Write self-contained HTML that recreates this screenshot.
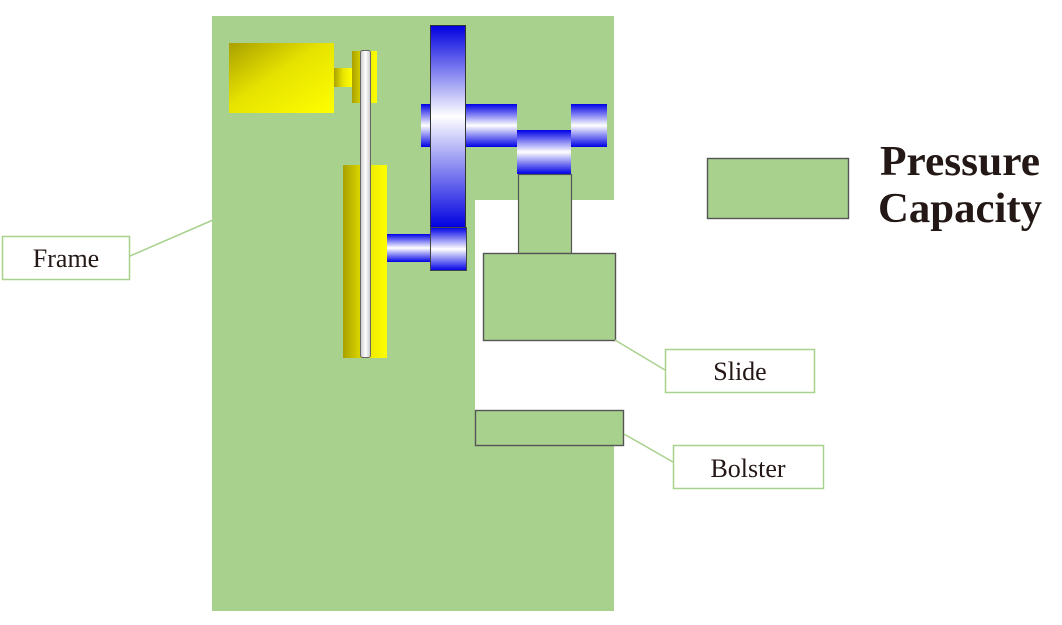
<!DOCTYPE html>
<html><head><meta charset="utf-8"><style>
html,body{margin:0;padding:0;background:#fff;}
svg{display:block;}
</style></head><body>
<svg width="1062" height="625" viewBox="0 0 1062 625" xmlns="http://www.w3.org/2000/svg">
<defs>
<linearGradient id="yel" x1="0" y1="0" x2="1" y2="1"><stop offset="0" stop-color="#a9a000"/><stop offset="0.45" stop-color="#e6e200"/><stop offset="1" stop-color="#ffff00"/></linearGradient>
<linearGradient id="yelh" x1="0" y1="0" x2="1" y2="0"><stop offset="0" stop-color="#a9a000"/><stop offset="0.5" stop-color="#e8e400"/><stop offset="1" stop-color="#ffff00"/></linearGradient>
<linearGradient id="bv" x1="0" y1="0" x2="0" y2="1"><stop offset="0" stop-color="#0000e6"/><stop offset="0.5" stop-color="#ffffff"/><stop offset="1" stop-color="#0000e6"/></linearGradient>
<linearGradient id="fly" x1="0" y1="0" x2="0" y2="1"><stop offset="0" stop-color="#0000e0"/><stop offset="0.45" stop-color="#ffffff"/><stop offset="1" stop-color="#0000e0"/></linearGradient>
<linearGradient id="belt" x1="0" y1="0" x2="1" y2="0"><stop offset="0" stop-color="#c8c8c8"/><stop offset="0.5" stop-color="#ffffff"/><stop offset="1" stop-color="#c8c8c8"/></linearGradient>
</defs>
<!-- frame -->
<path d="M212 16 H614 V200 H475 V446 H614 V611 H212 Z" fill="#a9d18e"/>
<!-- motor -->
<rect x="229" y="43" width="105" height="70" fill="url(#yel)"/>
<rect x="334" y="68" width="18" height="19" fill="url(#yelh)"/>
<rect x="352" y="51" width="25" height="52" fill="url(#yelh)"/>
<!-- big pulley -->
<rect x="343" y="165" width="44" height="193" fill="url(#yelh)"/>
<!-- belt -->
<rect x="360.5" y="50.5" width="10" height="307" rx="2" fill="url(#belt)" stroke="#666" stroke-width="1"/>
<!-- lower shaft -->
<rect x="387" y="234" width="44" height="28" fill="url(#bv)"/>
<!-- top shaft -->
<rect x="421" y="104" width="96" height="43" fill="url(#bv)"/>
<rect x="571" y="104" width="36" height="43" fill="url(#bv)"/>
<rect x="517" y="130" width="54" height="44" fill="url(#bv)"/>
<!-- flywheel -->
<rect x="430.5" y="25.5" width="35" height="202" fill="url(#fly)" stroke="#333" stroke-width="1"/>
<rect x="430.5" y="227.5" width="36" height="43" fill="url(#bv)" stroke="#444" stroke-width="1"/>
<!-- conn rod -->
<rect x="518.5" y="174.5" width="53" height="79" fill="#a9d18e" stroke="#555" stroke-width="1.2"/>
<!-- slide -->
<rect x="483.5" y="253.5" width="132" height="87" fill="#a9d18e" stroke="#555" stroke-width="1.4"/>
<!-- bolster -->
<rect x="475.5" y="410.5" width="148" height="35" fill="#a9d18e" stroke="#555" stroke-width="1.4"/>
<!-- legend -->
<rect x="707.5" y="158.5" width="141" height="60" fill="#a9d18e" stroke="#555" stroke-width="1.4"/>
<text x="960" y="175" font-family="Liberation Serif, serif" font-weight="bold" font-size="42" fill="#231815" text-anchor="middle" textLength="160" lengthAdjust="spacingAndGlyphs">Pressure</text>
<text x="960" y="222" font-family="Liberation Serif, serif" font-weight="bold" font-size="42" fill="#231815" text-anchor="middle" textLength="164" lengthAdjust="spacingAndGlyphs">Capacity</text>
<!-- callouts -->
<g stroke="#a9d18e" stroke-width="1.5" fill="#fff">
<line x1="130" y1="256" x2="213" y2="220"/>
<line x1="615" y1="340" x2="665" y2="370"/>
<line x1="624" y1="434" x2="673" y2="462"/>
<rect x="2.5" y="236.5" width="127" height="43"/>
<rect x="665.5" y="349.5" width="149" height="43"/>
<rect x="673.5" y="445.5" width="150" height="43"/>
</g>
<g font-family="Liberation Serif, serif" font-size="26" fill="#231815" text-anchor="middle">
<text x="66" y="267">Frame</text>
<text x="740" y="380">Slide</text>
<text x="748" y="477">Bolster</text>
</g>
</svg>
</body></html>
